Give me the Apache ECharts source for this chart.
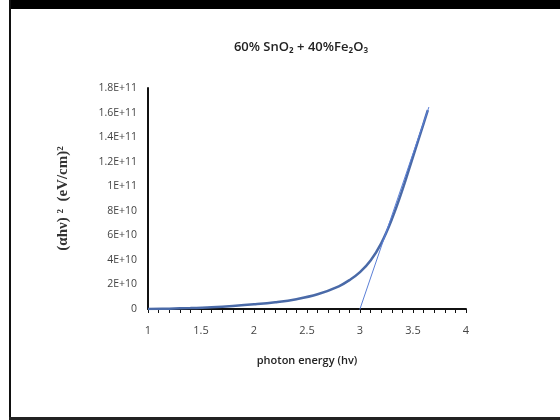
<!DOCTYPE html>
<html><head><meta charset="utf-8">
<script src="https://cdn.jsdelivr.net/npm/echarts@6/dist/echarts.min.js"></script>
<style>html,body{margin:0;padding:0;background:#fff}#c{width:560px;height:420px}</style>
</head><body><div id="c"></div>
<script>
const titleText = '60% SnO\u2082 + 40%Fe\u2082O\u2083';
const xName = 'photon energy (hv)';
const yName = '(\u03b1h\u03bd) \u00b2  (eV/cm)\u00b2';
const yTickLabels = {0:'0',2e10:'2E+10',4e10:'4E+10',6e10:'6E+10',8e10:'8E+10',1e11:'1E+11',1.2e11:'1.2E+11',1.4e11:'1.4E+11',1.6e11:'1.6E+11',1.8e11:'1.8E+11'};
const energy = [1.0,1.2,1.4,1.6,1.8,2.0,2.2,2.4,2.6,2.8,2.9,3.0,3.1,3.2,3.3,3.4,3.5,3.6,3.64];
const absorb = [0,0.03e10,0.08e10,0.15e10,0.25e10,0.38e10,0.55e10,0.8e10,1.2e10,1.85e10,2.35e10,3.0e10,3.95e10,5.35e10,7.3e10,9.7e10,12.4e10,15.1e10,16.2e10];
const tangentX = [2.96,3.65];
const tangentY = [-1.0e10,16.45e10];

const chart = echarts.init(document.getElementById('c'));
chart.setOption({
  animation:false,
  backgroundColor:'#fff',
  title:{text:titleText,left:296,top:36,textAlign:'center',textStyle:{fontFamily:'Open Sans',fontSize:13,fontWeight:600,color:'#222'}},
  grid:{left:148,right:94,top:88,bottom:111},
  xAxis:{type:'value',min:1,max:4,interval:0.5,
    name:xName,nameLocation:'middle',nameGap:46,
    nameTextStyle:{fontFamily:'Open Sans',fontSize:11,fontWeight:600,color:'#222'},
    axisLine:{onZero:false,lineStyle:{color:'#111',width:2}},
    axisTick:{show:true,inside:false,length:4,lineStyle:{color:'#111'}},
    minorTick:{show:true,splitNumber:5,length:4,lineStyle:{color:'#111'}},
    axisLabel:{fontFamily:'Open Sans',fontSize:11,color:'#444',margin:16},
    splitLine:{show:false}},
  yAxis:{type:'value',min:0,max:1.8e11,interval:2e10,
    name:yName,nameLocation:'middle',nameGap:77,nameRotate:90,
    nameTextStyle:{fontFamily:'Liberation Serif',fontSize:15,fontWeight:'bold',color:'#333'},
    axisLine:{show:true,lineStyle:{color:'#111',width:2}},
    axisTick:{show:false},
    axisLabel:{fontFamily:'Open Sans',fontSize:10.5,color:'#444',margin:11,
      formatter:v=>yTickLabels[Math.round(v/1e9)*1e9] ?? ''},
    splitLine:{show:false}},
  series:[
    {type:'line',data:tangentX.map((x,i)=>[x,tangentY[i]]),symbol:'none',
      lineStyle:{color:'#5b7fd6',width:1},z:3},
    {type:'line',data:energy.map((x,i)=>[x,absorb[i]]),symbol:'none',smooth:0.4,
      lineStyle:{color:'#4a6aa8',width:2.5},z:2}
  ],
  graphic:[
    {type:'rect',shape:{x:9,y:0,width:551,height:9},style:{fill:'#000'}},
    {type:'rect',shape:{x:9,y:0,width:2,height:420},style:{fill:'#111'}},
    {type:'rect',shape:{x:9,y:417,width:551,height:3},style:{fill:'#222'}}
  ]
});
</script></body></html>
